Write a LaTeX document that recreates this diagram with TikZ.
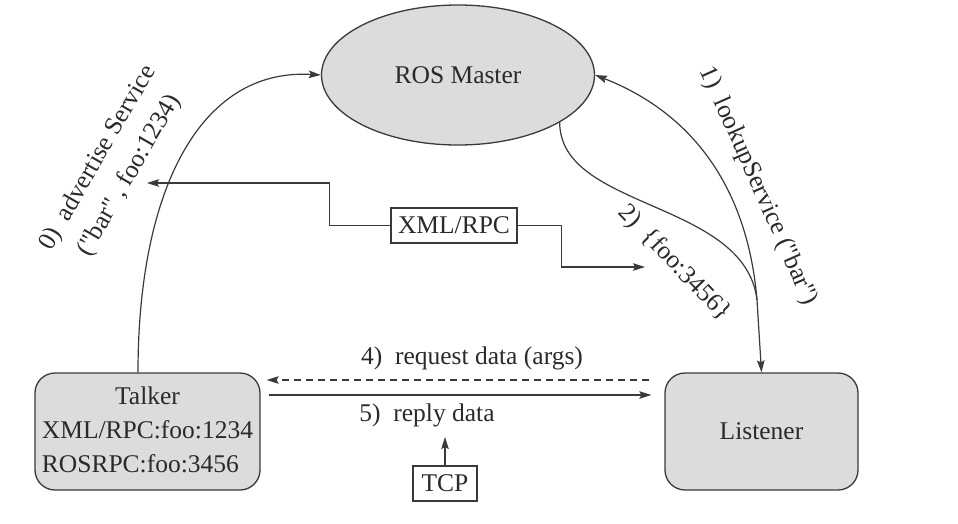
\documentclass[tikz,border=0pt]{standalone}
\usepackage{fontspec}
\setmainfont{Liberation Serif}[Ligatures=TeXOff]
\usetikzlibrary{arrows.meta,shapes.geometric,calc}
\definecolor{lc}{HTML}{3A3A3A}
\definecolor{fillg}{HTML}{DCDCDC}
\definecolor{txt}{HTML}{2A2A2A}
\begin{document}
\begin{tikzpicture}[x=1pt,y=-1pt,
  every node/.style={text=txt,font=\fontsize{25.5}{34}\selectfont},
  ell/.style={ellipse,draw=lc,fill=fillg,line width=1.3pt,minimum width=273pt,minimum height=140pt,inner sep=0pt},
  rbox/.style={draw=lc,fill=fillg,line width=1.3pt,rounded corners=20pt,minimum height=117pt,inner sep=0pt},
  sbox/.style={draw=lc,fill=white,line width=1.3pt,minimum height=35pt,inner sep=0pt},
  lab/.style={inner sep=0pt},
  arr/.style={draw=lc,line width=1.2pt,-{Stealth[length=12pt,width=7.5pt,inset=2pt]}},
  con/.style={draw=lc,line width=1.2pt}
]
\useasboundingbox (0,0) rectangle (958,523);

% nodes
\node[ell] (ros) at (458,75) {ROS Master};
\node[rbox,minimum width=225pt] (talker) at (147.5,431.5)
  {\begin{tabular}{@{}l@{}}\multicolumn{1}{@{}c@{}}{Talker}\\XML/RPC:foo:1234\\ROSRPC:foo:3456\end{tabular}};
\node[rbox,minimum width=193pt] (listener) at (761.5,431.5) {Listener};
\node[sbox,minimum width=126pt] (xml) at (454,225.5) {XML/RPC};
\node[sbox,minimum width=64pt] (tcp) at (445,483.5) {TCP};

% labels
\node[lab,rotate=60,align=center,font=\fontsize{25.5}{36}\selectfont] (lab0) at (114,167)
  {0)\enspace advertise Service\\("bar" , foo:1234)};
\node[lab,rotate=-66] (lab1) at (758,186) {1)\enspace lookupService ("bar")};
\node[lab,rotate=-46] (lab2) at (674,263) {2)\enspace\{foo:3456\}};
\node[lab] (lab4) at (472,358) {4)\enspace request data (args)};
\node[lab] (lab5) at (427,415) {5)\enspace reply data};

% coordinates
\coordinate (j) at (757,300);
\coordinate (advtip) at (147,183);
\coordinate (reptip) at (645,267);
\coordinate (tcptip) at (445,437);

% connectors
\draw[arr] ([xshift=-9.5pt]talker.north) .. controls (138,190) and (200,68) .. (ros.west);
\draw[arr] (j) .. controls (748,193) and (697,115) .. (ros.east);
\draw[con] (ros.-25) .. controls (560,210) and (745,200) .. (j);
\draw[arr] (j) -- (listener.north);
\draw[arr] (xml.west) -- ++(-61,0) |- (advtip);
\draw[arr] (xml.east) -- ++(44,0) |- (reptip);
\draw[arr,dashed,dash pattern=on 7pt off 5pt,shorten <=15pt,shorten >=6pt] (listener.west |- 0,380) -- (talker.east |- 0,380);
\draw[arr,shorten <=8pt,shorten >=13pt] (talker.east |- 0,395) -- (listener.west |- 0,395);
\draw[arr] (tcp.north) -- (tcptip);
\end{tikzpicture}
\end{document}
